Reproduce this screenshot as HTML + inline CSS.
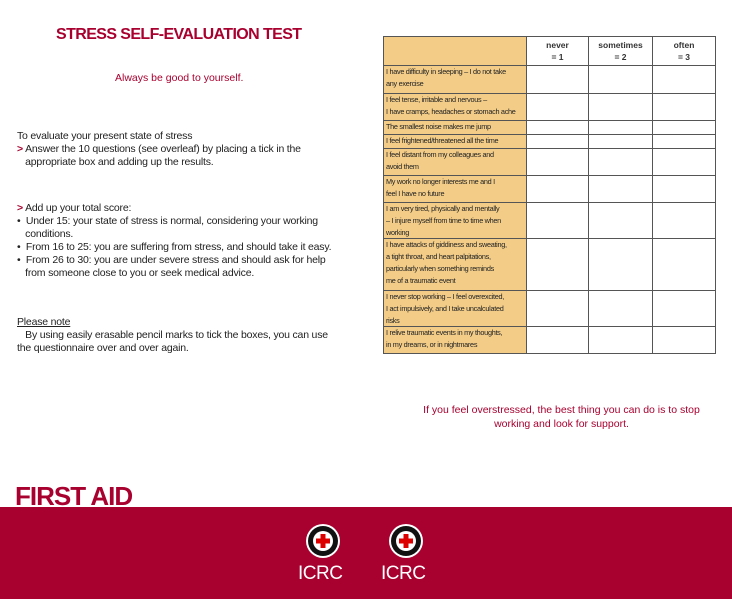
<!DOCTYPE html>
<html><head><meta charset="utf-8"><style>
body{margin:0;width:732px;height:599px;position:relative;background:#fff;font-family:"Liberation Sans Narrow","Liberation Sans",sans-serif;overflow:hidden;color:#222}
.a{position:absolute;white-space:nowrap}
.red{color:#a8002f}
.t{font-size:10.5px;line-height:13px;letter-spacing:-0.2px}
table{position:absolute;left:383px;top:36px;border-collapse:collapse;width:333px;table-layout:fixed}
td{border:1px solid #555;padding:0;vertical-align:top}
td div{font-size:7.3px;line-height:12px;letter-spacing:-0.3px;white-space:nowrap;overflow:hidden;padding-left:2px}
td.l{background:#f3cd88;width:142px}
th{border:1px solid #555;font-weight:bold;font-size:8.5px;line-height:12px;vertical-align:top;padding:2px 0 0 0;color:#333}
th.l{background:#f3cd88;width:142px}
</style></head><body>
<div class="a red" style="left:56px;top:26px;font-size:16px;font-weight:bold;letter-spacing:-0.6px">STRESS SELF-EVALUATION TEST</div>
<div class="a red" style="left:115px;top:72px;font-size:10.5px">Always be good to yourself.</div>
<div class="a t" style="left:17px;top:130px">To evaluate your present state of stress<br><b class="red">&gt;</b> Answer the 10 questions (see overleaf) by placing a tick in the<br>&nbsp;&nbsp;&nbsp;appropriate box and adding up the results.</div>
<div class="a t" style="left:17px;top:202px"><b class="red">&gt;</b> Add up your total score:<br>• &nbsp;Under 15: your state of stress is normal, considering your working<br>&nbsp;&nbsp;&nbsp;conditions.<br>• &nbsp;From 16 to 25: you are suffering from stress, and should take it easy.<br>• &nbsp;From 26 to 30: you are under severe stress and should ask for help<br>&nbsp;&nbsp;&nbsp;from someone close to you or seek medical advice.</div>
<div class="a t" style="left:17px;top:316px"><u>Please note</u><br>&nbsp;&nbsp;&nbsp;By using easily erasable pencil marks to tick the boxes, you can use<br>the questionnaire over and over again.</div>
<table>
<tr><th class="l" style="height:26px"></th><th style="width:61px">never<br>= 1</th><th style="width:63px">sometimes<br>= 2</th><th>often<br>= 3</th></tr>
<tr><td class="l"><div style="height:27px">I have difficulty in sleeping – I do not take<br>any exercise</div></td><td></td><td></td><td></td></tr>
<tr><td class="l"><div style="height:26px">I feel tense, irritable and nervous –<br>I have cramps, headaches or stomach ache</div></td><td></td><td></td><td></td></tr>
<tr><td class="l"><div style="height:13px">The smallest noise makes me jump</div></td><td></td><td></td><td></td></tr>
<tr><td class="l"><div style="height:13px">I feel frightened/threatened all the time</div></td><td></td><td></td><td></td></tr>
<tr><td class="l"><div style="height:26px">I feel distant from my colleagues and<br>avoid them</div></td><td></td><td></td><td></td></tr>
<tr><td class="l"><div style="height:26px">My work no longer interests me and I<br>feel I have no future</div></td><td></td><td></td><td></td></tr>
<tr><td class="l"><div style="height:35px">I am very tired, physically and mentally<br>– I injure myself from time to time when<br>working</div></td><td></td><td></td><td></td></tr>
<tr><td class="l"><div style="height:51px">I have attacks of giddiness and sweating,<br>a tight throat, and heart palpitations,<br>particularly when something reminds<br>me of a traumatic event</div></td><td></td><td></td><td></td></tr>
<tr><td class="l"><div style="height:35px">I never stop working – I feel overexcited,<br>I act impulsively, and I take uncalculated<br>risks</div></td><td></td><td></td><td></td></tr>
<tr><td class="l"><div style="height:26px">I relive traumatic events in my thoughts,<br>in my dreams, or in nightmares</div></td><td></td><td></td><td></td></tr>
</table>
<div class="a red" style="left:384px;top:403px;width:355px;text-align:center;font-size:10.5px;line-height:14px;white-space:normal">If you feel overstressed, the best thing you can do is to stop<br>working and look for support.</div>
<div class="a red" style="left:15px;top:483px;font-size:26px;font-weight:bold;letter-spacing:-1px;line-height:26px">FIRST AID</div>
<div style="position:absolute;left:0;top:507px;width:732px;height:92px;background:#a8002f"></div>
<svg class="a" style="left:300px;top:522px" width="140" height="40">
<g transform="translate(23,19)"><circle r="17" fill="#fff"/><circle r="15" fill="#111"/><circle r="10" fill="#fff"/><rect x="-7" y="-2.5" width="14" height="5" fill="#d00"/><rect x="-2.5" y="-7" width="5" height="14" fill="#d00"/></g>
<g transform="translate(106,19)"><circle r="17" fill="#fff"/><circle r="15" fill="#111"/><circle r="10" fill="#fff"/><rect x="-7" y="-2.5" width="14" height="5" fill="#d00"/><rect x="-2.5" y="-7" width="5" height="14" fill="#d00"/></g>
</svg>
<div class="a" style="left:298px;top:563px;color:#fff;font-family:'Liberation Sans',sans-serif;font-size:19px;letter-spacing:-0.5px">ICRC</div>
<div class="a" style="left:381px;top:563px;color:#fff;font-family:'Liberation Sans',sans-serif;font-size:19px;letter-spacing:-0.5px">ICRC</div>
</body></html>
